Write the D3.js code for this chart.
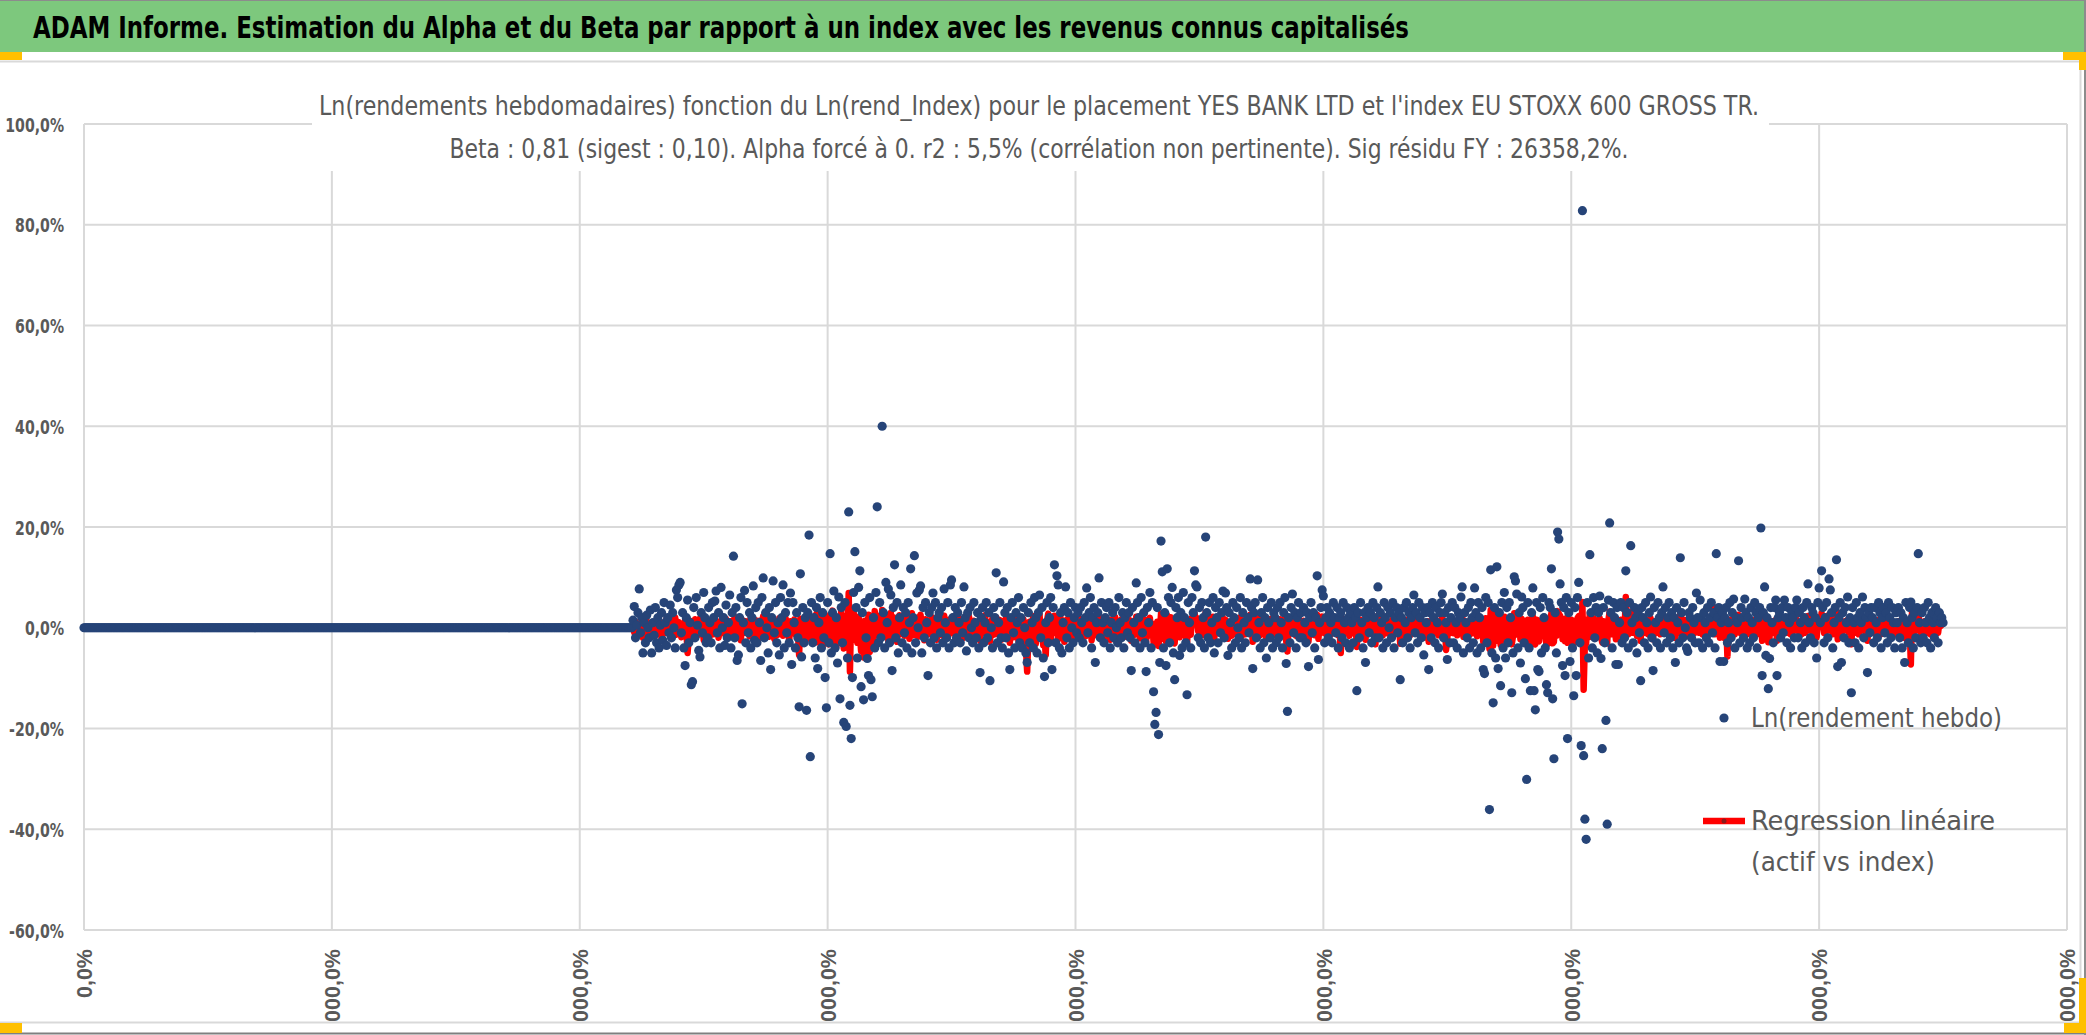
<!DOCTYPE html>
<html>
<head>
<meta charset="utf-8">
<script src="https://cdn.jsdelivr.net/npm/d3@7/dist/d3.min.js"></script>
<style>
  body { margin: 0; background: #fff; }
  svg { display: block; }
</style>
</head>
<body>
<svg id="board" width="2086" height="1035"></svg>
<script>
var title = 'ADAM Informe. Estimation du Alpha et du Beta par rapport à un index avec les revenus connus capitalisés';
var subtitleLines = [
  "Ln(rendements hebdomadaires) fonction du Ln(rend_Index) pour le placement YES BANK LTD et l'index EU STOXX 600 GROSS TR.",
  'Beta : 0,81 (sigest : 0,10). Alpha forcé à 0. r2 : 5,5% (corrélation non pertinente). Sig résidu FY : 26358,2%.'
];
var legendLabels = ['Ln(rendement hebdo)', 'Regression linéaire', '(actif vs index)'];

var xTicks = [0, 200, 400, 600, 800, 1000, 1200, 1400, 1600];
var yTicks = [-60, -40, -20, 0, 20, 40, 60, 80, 100];

// weeks before the first quote: the weekly ln return is 0 there
var preListingWeeks = 443;

// Ln(rendement hebdo), in %, one value per week after listing
var weeklyLnReturns = [
  1.5, 4.2, -2, 0.5, 3, 7.7, -1, 2, -5, 1, -3, 2.5, 0, -2, 3.5, -5, 1, -1.5, 4, -3,
  2, -4, 0.5, 3, -2.5, 5, 1, -3.5, 2, -1, 4.5, -2, 3, 0, -4, 7.5, 6, 8.5, 9, -1,
  3, -4, -7.5, 2, 5.5, -3, 1, -11.3, -10.7, 4, -2, 6, 0.5, -4.5, -5.8, 3, -1, 7, 2, -3,
  -2, 4, 1, -3, 5, 2, 5.3, 7.3, -1, 3, -4, 8, 0, 2, -3.5, 4.5, -2, 1, 6.5, -4,
  3, 14.2, -2, 4, -6.5, -5.4, 2, 6, -15.1, 1, 7.4, -3, 5, -1, 3, -4, 2, 8.3, -2.5, 4,
  -3, 5, 1, -6.5, 6, 9.9, -2, 3, 0, -5, 4, -8.3, 2, 9.3, -1, 5, -3, 1, -5.4, 6,
  2, 8.5, -4, 3, -1, 5, -3, 6.9, -7.3, 5, 1, -4, 3, -2, -15.7, 10.7, -5.8, 4, -3, 2,
  -16.4, 3, 18.4, -25.6, 5, -3, 2, -6, 4, -8.1, 1, 6, -4, 3, -2, -9.9, -15.9, 5, -3, 14.7,
  -5, 3, 7.3, -4, 2, -7, 6.1, -14.1, 4, -3, -18.8, 5, -19.6, -6, 23, -15.4, -22, -9.9, 7, 15.1,
  4, -6, 8, 11.3, -11.7, 3, -14.3, 5, -2, -6.1, -9.5, 6, -10.3, -13.7, 2, -4, 7, 24, -3, 5,
  -2, 40, 3, -4, 9, 1, 7.7, -3, 6.5, -8.5, 4, 12.5, -2, 5, -5, 2, 8.5, -3, 4, -1,
  3, -4, 5, 1, 11.7, -5, 2, 14.3, -3, 6.9, 0, 7.5, 8.3, -5, 4, -2, 5, 1, -9.5, 3,
  -3, 4, 6.9, -2, 5, -4, 2, 3, -1, 4, -3, 7.7, 1, -2, 5, -4, 8.5, 9.5, 2, -3,
  4, -2, 3, 1, -3, 5, -1, 8.1, 2, -4.6, 3, -2, 4, 0, -3, 5, 1, -2, 3, -4,
  -8.9, 2, 4, -3, 1, 5, -2, 3, -10.5, 0, -4, 4, 2, 10.9, -3, 1, 5, -2, -4, 9.1,
  3, -2, 4, -5, -8.3, 2, 5, -1, -4, 3, 1, 6, -3, 2, -4, 4, 0, -5, -6.9, 3,
  -3, 5, 1, -4, 6, 2, -5, 3, 6.5, -2, 4, -6, -9.7, 1, 5, -3, 2, 6, -8.3, 4,
  12.5, -3, 10.3, 8.5, -4, 3, -5, 1, 4, 8.1, -2, 3, -4, 5, 0, -3, 2, 4, -1, 3,
  -2, 4, 1, -3, 5, 2, 7.9, -1, 3, 6, -4, 2, 4, -6.9, 1, 3, 9.9, -2, 5, 1,
  -3, 2, 4, -1, 5, -4, 1, 3, -2, 4, 0, -3, 6, 1, -2, 3, -4, 2, 5, -1,
  3, -2, -8.5, 4, 1, -3, 8.9, 5, 2, -4, 6, -1, 3, -3, -8.7, 4, 1, 7, -4, 5,
  -12.7, -19.2, -16.8, 4, -21.2, -6.9, 17.2, 11.1, -4, 3, -7.5, 11.7, 6, -3, 5, 8, -5, -10.3, 4, 2,
  6, -5.5, 3, -4, 7, 2, -3, -13.3, 5, 1, -4, 6, 3, 11.3, 8.5, 8.1, -2, 4, -3, 5,
  2, -4, 18, 3, -2, 5, -3, 1, 6, -5, 4, 2, -3, 5, -1, 3, 7.3, -2, 6.9, 4,
  -5.5, 3, 1, -4, 5, 2, -3, 4, 0, -2, 6, -4, 3, 1, -3, 5, 2, -1, 9.7, 4,
  -8.1, 3, 5, -2, 9.5, 1, -4, 3, 6, -3, 2, -6, 4, 1, -2, 5, -4, 3, 2, -3,
  4, -2, 5, 1, -4, 3, 6, -7.1, -16.6, 2, -3, 4, 6.7, -1, 3, -4, 2, 5, -2, 3,
  -2, 4, 1, -3, 3, -7.7, 2, 5, -1, 3, -4, 2, 10.3, -6.3, 1, 4, 7.5, 6.3, -3, 2,
  4, -2, 3, 1, -3, 5, 2, -1, 4, -4, 2, 3, -2, 5, 1, -3, 4, 2, -4, 3,
  1, -3, 4, 2, -12.5, 3, -2, 5, 1, -4, 3, -6.9, 2, 4, -1, 3, -3, 5, 2, -2,
  4, 8.1, -2, 3, 1, -4, 5, 2, -3, 4, 0, 3, -2, 5, -4, 2, 4, -1, 3, -10.3,
  2, -3, 4, 1, 5, -2, 3, -4, 2, 4, 6.5, -1, 3, -3, 5, 2, -2, 4, -5.4, 3,
  1, 4, -8.3, 3, -2, 5, 2, -3, 4, 1, -4, 3, 5, 6.7, -2, 3, 1, -6.3, 4, -3,
  2, 5, -3, 4, 1, -4, 3, 2, 6.1, 8.1, -5, 3, 1, -2, 4, -4, 5, 2, -3, 7.9,
  3, -5, 5, 2, -4, 4, -8.3, -9.1, 6, -3, 5, -36.1, 11.5, -5, -14.9, 4, -6, 12.1, -8.1, 3,
  -11.5, 5, -4, 7, -6, 4, -3, 5, 2, -12.9, -5, 10.1, 9.3, 6.7, -4, 3, -7, 6.1, 4, -3,
  -10.1, -30.1, 5, -4, -12.5, 3, 7.9, -12.5, -16.3, 5, -8.3, -8.7, 4, -5, 6, 2, -4, -11.3, -12.9, 5,
  4, 11.7, -14.1, -26, 3, -5, 19, 17.6, 8.7, 5, -7.5, 4, -9.5, 6, -22, 3, -6.7, 5, -4, -13.5,
  4, -9.5, 6, 9, -3, -23.4, 82.8, -25.4, -38, -42, 5, -6, 14.5, 3, -4, 6, -2, 4, -5, 3,
  6.3, -6.1, -24, 4, -3, -18.4, -39, 5.5, 20.8, 3, -4, 5, 2, -7.3, 4, -7.3, 1, 5, -3, 4,
  -2, 11.3, 3, -4, 5, 16.3, 1, -3, 4, 2, -5, 3, -1, -10.5, 4, 2, -3, 5, 1, -4,
  3, 6.1, -2, -8.5, 4, 1, -3, 5, 2, -4, 3, 8.1, -1, 4, -3, 2, 5, -2, 3, -4,
  2, -6.9, 4, 1, -3, 13.9, 3, -2, 5, 0, -4, -4.7, 3, 2, -2, 4, 1, -3, 6.9, 2,
  -3, 5.5, 2, -4, 3, 1, -2, 4, -3, 2, 5, -1, 3, -4, 14.7, 2, 4, -6.7, 1, 3,
  -6.7, 2, 4, -3, 1, 5, -2, 3, 5.7, -4, 2, 1, 13.3, -3, 4, 2, -2, 5.7, 3, -4,
  2, -3, 4, 1, -2, 5, 3, -4, 2, 4, 19.8, -9.5, 3, 8.1, -5.5, 2, -12.1, -6.1, 4, 1,
  -3, 4, 5.5, -9.5, 2, 3, -2, 4, -1, 5.5, 2, -3, 4, 1, -4, 3, 2, -2, 4, 5.5,
  -2, 3, 1, -4, 4, 2, -3, 5, 8.7, 1, -2, 4, 3, -3, 2, -6, 5, 7.9, 1, 11.3,
  4, -3, 2, 5, -2, 9.7, 7.5, 3, -4, 1, 4, 13.5, -7.7, 2, 5, -6.9, 3, -2, 4, 1,
  6.1, -3, 2, -12.9, 4, 1, -3, 5, 2, -4, 3, 1, 6.1, -2, 4, 2, -8.9, 3, -1, 4,
  2, -3, 4, 1, -2, 5, 3, -4, 2, 4, -1, 3, -3, 5, 2, -2, 4, 1, -4, 3,
  1, 4, -2, 3, -4, 2, -6.9, 5, 1, -3, 4, 5.1, 2, -4, 3, -2, 4, 14.7, 1, -3,
  3, -2, 4, 1, -3, 5, 2, -4, 3, 1, -2, 4, 2, -3, 3, 1, 2, 1
];

// Regression linéaire (actif vs index) = beta x Ln(rend_Index), in %, same weeks
var regressionValues = [
  0.5, -1, 1.2, -0.5, 0.8, -1.5, 0.3, 1, -2, 0.6, -0.8, 1.4, -1.2, 0.2, 0.9, -1.8, 1.1, -0.4, 0.7, -1.3,
  1.5, -0.6, 0.4, -2.1, 1, 0.2, -1.1, 1.8, -0.7, 0.5, -1.6, 1.2, 0.3, -0.9, 2, -1.4, 0.6, 1.1, -0.3, -1.9,
  0.8, -1.2, 1.6, -0.5, -5, -1.8, 0.9, 1.3, -2.2, 0.4, 1.7, -0.8, -1.5, 0.6, 1.9, -1, 0.2, -2.4, 1.2, 0.5,
  -0.9, 1.5, -1.7, 0.8, 0.3, -1.3, 2.1, -0.6, 1, -2, 0.7, 1.4, -1.1, 0.4, -0.2, 1.8, -1.6, 0.9, -0.7, 1.3,
  -1.4, 0.6, 2.2, -1.9, 0.5, -0.8, 1.1, -2.5, 1.6, 0.2, -1, 1.3, -0.4, 0.9, -1.7, 2, -0.5, 0.7, -1.2, 1.5,
  0.3, -2.1, 1.4, -0.6, 0.8, 2.3, -1.5, 0.4, -0.9, 1.7, -1.8, 0.5, 1.2, -0.3, -2.2, 1, 0.6, -1.4, 1.9, -0.7,
  1.1, -1.6, 0.2, 2, -1.1, 0.7, -2.6, 1.3, -0.5, 0.9, 1.6, -1.3, 0.4, -0.8, -5.4, 1.8, -1.9, 0.6, 1.2, -1,
  -2.3, 0.8, 2.5, -1.7, 0.3, -3.1, 1.9, -0.6, 2.8, -2.9, 0.5, 3.2, -1.4, -3.6, 1.1, 2.4, -2.7, 0.9, -3.3, 2.6,
  -1.2, 3.4, -2.5, 0.7, -3.8, 2.1, 1.4, -2.9, 3.7, -1.6, -4.1, 2.3, 0.6, -3.2, 6.9, -8.7, 2.9, -1.8, 3.1, -2.4,
  1.7, -3, 2.2, -1.1, -4.6, 0.9, -5.9, 1.4, -5.5, -2.3, 2.6, -4.8, 1.5, 0.8, -2.7, 3.3, -1.5, 2.4, -0.6, 1.2,
  -2.1, 3.5, -1.3, 2.7, -0.8, 1.9, -2.6, 0.5, 3, -1.9, 2.1, -0.4, 1.6, -2.8, 0.9, 2.5, -1.2, 0.3, 1.8, -1.6,
  2.3, -0.7, 1.4, -2.2, 0.6, 2.9, -1.5, 1.1, -0.3, 2, -1.8, 0.8, 2.6, -1, 0.4, -2.5, 1.7, 0.2, -1.3, 1.5,
  -0.6, 2.1, -1.9, 0.7, 1.3, -2.4, 0.5, 1.9, -0.8, 1.2, -1.6, 2.4, -0.2, 0.9, -2, 1.6, 0.3, -1.1, 2.2, -0.5,
  1, -1.7, 0.4, 2, -0.9, 1.5, -2.1, 0.7, 1.8, -1.2, 0.2, 2.3, -1.5, 0.9, -0.4, 1.4, -2.3, 1.1, 0.6, -1.8,
  -2.6, 0.8, 1.6, -1, 2.5, -0.7, 1.2, -2, -2.8, 0.5, 1.9, -1.4, 0.3, 2.1, -1.2, 0.7, 1.5, -2.4, 0.9, 1.3,
  -1.5, 2.2, -0.6, 1, -3, 0.4, 1.8, -1.9, 0.8, 2.4, -1.1, -2.6, 1.3, -3.4, 0.6, 1.7, -2.5, -4.2, -8.7, -1.6,
  1.2, -2.7, 0.9, 2.3, -1.8, -3.2, 1.5, -0.9, 2.6, -2, 0.7, -3.5, -2.2, -5.4, 1.4, 2.8, -1.3, -2.9, 1.9, -1,
  2.4, -0.6, 1.7, -2.3, 0.5, 2, -1.5, 1.2, -2.8, 0.8, 1.6, -1.1, 2.5, -0.4, 0.9, -1.9, 1.4, -0.7, 2.1, -1.4,
  0.6, -2.2, 1.8, -0.5, 1.1, -1.7, 2.3, 0.2, -1.2, 1.5, -2.5, 0.9, 1.9, -0.8, 0.4, -1.6, 2.2, -1, 0.7, 1.3,
  -1.9, 0.8, 2, -1.3, 0.5, -2.4, 1.6, 0.3, -0.9, 2.1, -1.5, 1, -2, 0.6, 1.7, -1.1, 0.2, 2.4, -1.8, 0.9,
  -0.4, 1.5, -2.6, 1.1, 0.7, -1.4, 2.2, -0.8, 1.3, -2.1, 0.5, 1.9, -1.2, 0.4, -2.7, 1.6, -0.3, 2, -1.6, 0.8,
  -2.9, -3.3, -2.4, 1.2, -3.6, -1.5, 2.8, 1.9, -2.2, 0.6, -2.7, 2.5, 1.4, -1.8, 2.1, 0.9, -2.4, -3.1, 1.3, 0.7,
  1.8, -1.9, 0.9, -1.2, 2.3, 0.4, -1.6, -3.2, 1.5, 0.5, -1.4, 2, 0.8, 2.9, 1.7, 1.9, -0.7, 1.1, -1.3, 1.6,
  0.6, -1.5, 3.1, 0.9, -0.8, 1.7, -1.4, 0.3, 2.2, -2, 1.2, 0.5, -1.1, 1.9, -0.4, 0.8, 2, -0.9, 1.6, 1.1,
  -2.2, 0.9, 0.3, -1.6, 1.8, 0.6, -1.2, 1.4, 0.1, -0.8, 2.1, -1.7, 1, 0.4, -1.3, 1.7, 0.7, -0.5, 2.6, 1.2,
  -2.8, 0.8, 1.6, -0.7, 2.7, 0.4, -1.5, 1.1, 1.9, -1.2, 0.6, -2.2, 1.4, 0.3, -0.9, 1.8, -1.6, 1, 0.7, -1.1,
  1.3, -0.6, 1.7, 0.4, -1.5, 1, 2, -2.6, -4.7, 0.7, -1.2, 1.4, 2.1, -0.4, 1.1, -1.6, 0.6, 1.8, -0.8, 1.2,
  -0.7, 1.4, 0.3, -1.2, 1, -2.7, 0.8, 1.7, -0.5, 1.1, -1.5, 0.7, 2.6, -2.2, 0.4, 1.3, 2.2, 1.9, -1.1, 0.6,
  1.4, -0.8, 1.1, 0.3, -1.2, 1.6, 0.7, -0.4, 1.3, -1.5, 0.5, -5, -0.9, 1.7, 0.4, -1.1, 1.5, 0.6, -1.6, 1,
  0.3, -1.1, 1.4, 0.6, -3.8, 1, -0.7, 1.6, 0.4, -1.4, 1.1, -2.4, 0.7, 1.3, -0.3, 1, -1.2, 1.7, 0.5, -3.3,
  1.3, 2.4, -0.7, 1.1, 0.4, -1.5, 1.6, 0.7, -1.1, 1.3, 0.1, 1, -0.8, 1.7, -1.4, 0.6, 1.3, -0.4, 1, -3.2,
  0.7, -1.2, 1.4, 0.3, 1.6, -0.8, 1.1, -1.5, 0.6, 1.3, 2, -0.4, 1, -1.2, 1.5, 0.6, -0.7, 1.3, -2, 1,
  0.4, 1.3, -2.8, 1, -0.7, 1.6, 0.5, -1.1, 1.3, 0.3, -1.5, 1, 1.6, 2.1, -0.8, 1.1, -4.4, -2.1, 1.3, -1.1,
  0.7, 1.6, -1.1, 1.3, 0.3, -1.5, 1, 0.6, 1.9, 2.5, -1.8, 1, 0.4, -0.8, 1.3, -1.4, 1.6, 0.7, -1.1, 2.4,
  1, -1.7, 1.6, 0.6, -1.4, 1.3, -2.8, -3.1, 1.9, -1.1, 1.5, -4.2, 3.5, -1.8, -3.6, 1.3, -2, 3.4, -2.6, 1,
  -3.4, 1.6, -1.4, 2.2, -2, 1.3, -1, 1.6, 0.6, -3.3, -1.7, 2.9, 2.6, 1.9, -1.4, 1, -2.3, 1.8, 1.3, -1,
  -2.9, -3.4, 1.6, -1.3, -3.1, 1, 2.3, -3.2, -3.3, 1.6, -2.6, -2.7, 1.3, -1.6, 1.9, 0.6, -1.3, -3.4, -3.2, 1.6,
  1.3, 2.9, -3.1, -2.8, 1, -1.6, 3.3, 2.8, 2.4, 1.6, -2.3, 1.3, -2.7, 1.9, -3, 1, -2, 1.6, -1.3, -3.1,
  1.3, -2.6, 1.9, 2.3, -1, -3, 5.1, -12.3, -2.9, -3.2, 1.6, -1.9, 3, 1, -1.3, 1.9, -0.6, 1.3, -1.6, 1,
  1.9, -1.9, -2.9, 1.3, -1, -2.7, -3.1, 1.6, 3.2, 1, -1.3, 1.6, 0.6, -2.3, 1.3, -2.2, 0.3, 1.6, -1, 1.3,
  -0.6, 6.1, 1, -1.3, 1.6, 3.1, 0.3, -1, 1.3, 0.6, -1.6, 1, -0.3, -2.6, 1.3, 0.6, -1, 1.6, 0.3, -1.3,
  1, 1.9, -0.6, -2.3, 1.3, 0.3, -1, 1.6, 0.6, -1.3, 1, 2.3, -0.3, 1.3, -1, 0.6, 1.6, -0.6, 1, -1.3,
  0.6, -2, 1.3, 0.3, -1, 2.8, 1, -0.6, 1.6, 0.1, -1.3, -1.6, 1, 0.6, -0.6, 1.3, 0.3, -1, 1.9, 0.6,
  -1, 1.6, 0.6, -1.3, 1, 0.3, -0.6, 1.3, -1, 0.6, 1.6, -0.3, 4, -1.3, 2.9, 0.6, 1.3, -2, 0.3, 1,
  -2, 0.6, 1.3, -5.7, 0.3, 1.6, -0.6, 1, 1.6, -1.3, 0.6, 0.3, 2.6, -1, 1.3, 0.6, -0.6, 1.6, 1, -1.3,
  0.6, -1, 1.3, 0.3, -0.6, 1.6, 1, -1.3, 0.6, 1.3, 3.4, -2.6, 1, 2, -1.6, 0.6, -2.9, -1.9, 1.3, 0.3,
  -1, 1.3, 1.6, -2.6, 0.6, 1, -0.6, 1.3, -0.3, 1.6, 0.6, -1, 1.3, 0.3, -1.3, 1, 0.6, -0.6, 1.3, 1.6,
  -0.6, 1, 0.3, -1.3, 1.3, 0.6, -1, 1.6, 2.3, 0.3, -0.6, 1.3, 1, -1, 0.6, -1.9, 1.3, 2, 0.3, 2.9,
  1.3, -1, 0.6, 1.6, -0.6, 2.6, 1.9, 1, -1.3, 0.3, 1.3, 3.2, -2.3, 0.6, 1.6, -2, 1, -0.6, 1.3, 0.3,
  1.6, -1, 0.6, -3.3, 1.3, 0.3, -1, 1.6, 0.6, -1.3, 1, 0.3, 1.9, -0.6, 1.3, 0.6, -2.6, 1, -0.3, 1.3,
  0.6, -1, 1.3, 0.3, -0.6, 1.6, 1, -1.3, 0.6, 1.3, -0.3, 1, -1, 1.6, 0.6, -0.6, 1.3, 0.3, -1.3, 1,
  0.3, 1.3, -0.6, 1, -1.3, 0.6, -2, 1.6, 0.3, -1, 1.3, -7.3, 3.5, -1.3, 1, -0.6, 1.3, 3, 0.3, -1,
  1, -0.6, 1.3, 0.3, -1, 1.6, 0.6, -1.3, 1, 0.3, -0.6, 1.3, 0.6, -1, 1, 0.3, 0.6, 0.3
];

var W = 2086;
var H = 1035;
var plot = { left: 84, right: 2067, top: 124, bottom: 930 };
var gray = '#595959';
var gridColor = '#d9d9d9';
var dotColor = '#264478';
var lineColor = '#ff0000';
var narrow = "'Liberation Sans Narrow', 'DejaVu Sans Condensed', 'Roboto', sans-serif";

var board = d3.select('#board');

var x = d3.scaleLinear().domain([0, 1600]).range([plot.left, plot.right]);
var y = d3.scaleLinear().domain([-60, 100]).range([plot.bottom, plot.top]);

function frPercent(v) {
  return v.toFixed(1).replace('.', ',') + '%';
}

// rough width of a y tick label in the reference's narrow bold face
function labelWidth(s) {
  var w = 0;
  s.split('').forEach(function(c) {
    if (c === ',') w += 4.5;
    else if (c === '%') w += 15;
    else if (c === '-') w += 6;
    else w += 9.8;
  });
  return w;
}

// points: flat zeros before listing, then the weekly series
var dotData = d3.range(preListingWeeks).map(function(i) {
  return { week: i, value: 0 };
}).concat(weeklyLnReturns.map(function(v, j) {
  return { week: preListingWeeks + j, value: v };
}));
var lineData = regressionValues.map(function(v, j) {
  return { week: preListingWeeks + j, value: v };
});

renderFrame();
renderGrid();
renderAxes();
renderSeries();
renderTitles();
renderLegend();

function renderFrame() {
  board.append('rect')
    .attr('x', 0).attr('y', 0).attr('width', W).attr('height', H)
    .attr('fill', '#fff');

  // green header band
  board.append('rect')
    .attr('x', 0).attr('y', 0).attr('width', 2084).attr('height', 52)
    .attr('fill', '#7dc87d');
  board.append('line')
    .attr('x1', 0).attr('x2', W).attr('y1', 0.5).attr('y2', 0.5)
    .attr('stroke', '#8c8c8c');

  // chart area border
  board.append('path')
    .attr('d', 'M0,61.5H2080.5V1022.5H0')
    .attr('fill', 'none')
    .attr('stroke', gridColor)
    .attr('stroke-width', 2);
  board.append('line')
    .attr('x1', 0).attr('x2', W).attr('y1', 1033.5).attr('y2', 1033.5)
    .attr('stroke', '#7f7f7f').attr('stroke-width', 2);
  board.append('line')
    .attr('x1', 2085).attr('x2', 2085).attr('y1', 0).attr('y2', H)
    .attr('stroke', '#8c8c8c').attr('stroke-width', 2);

  // selection handles
  var handles = [
    [0, 52, 22, 8], [2063, 52, 23, 8], [2079, 52, 7, 18],
    [0, 1023, 22, 10], [2064, 1023, 22, 10], [2079, 978, 7, 55]
  ];
  board.selectAll('.handle')
    .data(handles)
    .enter()
    .append('rect')
    .classed('handle', true)
    .attr('x', function(d) { return d[0]; })
    .attr('y', function(d) { return d[1]; })
    .attr('width', function(d) { return d[2]; })
    .attr('height', function(d) { return d[3]; })
    .attr('fill', '#ffc000');
}

function renderGrid() {
  var grid = board.append('g').attr('id', 'grid');
  grid.selectAll('.hgrid')
    .data(yTicks)
    .enter()
    .append('line')
    .classed('hgrid', true)
    .attr('x1', plot.left).attr('x2', plot.right)
    .attr('y1', y).attr('y2', y)
    .attr('stroke', gridColor)
    .attr('stroke-width', 2);
  grid.selectAll('.vgrid')
    .data(xTicks)
    .enter()
    .append('line')
    .classed('vgrid', true)
    .attr('x1', x).attr('x2', x)
    .attr('y1', plot.top).attr('y2', plot.bottom)
    .attr('stroke', gridColor)
    .attr('stroke-width', 2);

  // the chart title sits on a white box over the top of the grid
  board.append('rect')
    .attr('x', 312).attr('y', 63).attr('width', 1457).attr('height', 108)
    .attr('fill', '#fff');
}

function renderAxes() {
  var yAxis = board.append('g')
    .attr('transform', 'translate(64,0)')
    .call(d3.axisLeft(y).tickValues(yTicks).tickFormat(frPercent).tickSize(0).tickPadding(0));
  yAxis.select('.domain').remove();
  yAxis.selectAll('text')
    .attr('dy', '0.35em')
    .attr('textLength', function(d) { return labelWidth(frPercent(d)); })
    .attr('lengthAdjust', 'spacingAndGlyphs')
    .style('font-family', narrow)
    .style('font-size', '20px')
    .style('font-weight', 'bold')
    .attr('fill', gray);

  // x labels are longer than the room under the plot: the chart edge cuts them
  board.append('clipPath')
    .attr('id', 'label-clip')
    .append('rect')
    .attr('x', 0).attr('y', 0).attr('width', W).attr('height', 1021);

  var xAxis = board.append('g')
    .attr('clip-path', 'url(#label-clip)')
    .append('g')
    .attr('transform', 'translate(0,949)')
    .call(d3.axisBottom(x).tickValues(xTicks).tickFormat(function(t) {
      return frPercent(t * 100);
    }).tickSize(0));
  xAxis.select('.domain').remove();
  xAxis.selectAll('text')
    .attr('x', 0)
    .attr('y', 0)
    .attr('dy', '0.36em')
    .attr('transform', 'rotate(-90)')
    .style('text-anchor', 'end')
    .style('font-family', "'Liberation Sans', Arial, sans-serif")
    .style('font-size', '21.5px')
    .style('font-weight', 'bold')
    .attr('fill', gray);
}

function renderSeries() {
  var regression = d3.line()
    .x(function(d) { return x(d.week); })
    .y(function(d) { return y(d.value); });

  board.append('path')
    .datum(lineData)
    .attr('d', regression)
    .attr('fill', 'none')
    .attr('stroke', lineColor)
    .attr('stroke-width', 6.5)
    .attr('stroke-linejoin', 'round');

  // dots are drawn over the regression line
  board.append('g')
    .attr('id', 'dots')
    .selectAll('circle')
    .data(dotData)
    .enter()
    .append('circle')
    .attr('cx', function(d) { return x(d.week); })
    .attr('cy', function(d) { return y(d.value); })
    .attr('r', 4.6)
    .attr('fill', dotColor);
}

function renderTitles() {
  board.append('text')
    .attr('x', 33)
    .attr('y', 38)
    .attr('textLength', 1376)
    .attr('lengthAdjust', 'spacingAndGlyphs')
    .style('font-family', narrow)
    .style('font-size', '31px')
    .style('font-weight', 'bold')
    .attr('fill', '#000')
    .text(title);

  var widths = [1440, 1179];
  var baselines = [115, 158];
  board.selectAll('.subtitle')
    .data(subtitleLines)
    .enter()
    .append('text')
    .classed('subtitle', true)
    .attr('x', 1039)
    .attr('y', function(d, i) { return baselines[i]; })
    .attr('text-anchor', 'middle')
    .attr('textLength', function(d, i) { return widths[i]; })
    .attr('lengthAdjust', 'spacingAndGlyphs')
    .style('font-family', narrow)
    .style('font-size', '26px')
    .attr('fill', gray)
    .text(function(d) { return d; });
}

function renderLegend() {
  var legend = board.append('g').attr('id', 'legend');
  legend.append('circle')
    .attr('cx', 1724).attr('cy', 718).attr('r', 4.6)
    .attr('fill', dotColor);
  legend.append('line')
    .attr('x1', 1703).attr('x2', 1745)
    .attr('y1', 821).attr('y2', 821)
    .attr('stroke', lineColor)
    .attr('stroke-width', 6.5);
  legend.append('circle')
    .attr('cx', 1724).attr('cy', 821).attr('r', 2.5)
    .attr('fill', '#8b1a1a');

  var rows = [
    { label: legendLabels[0], y: 718, w: 251 },
    { label: legendLabels[1], y: 821, w: 244 },
    { label: legendLabels[2], y: 862, w: 184 }
  ];
  legend.selectAll('text')
    .data(rows)
    .enter()
    .append('text')
    .attr('x', 1751)
    .attr('y', function(d) { return d.y; })
    .attr('dy', '0.35em')
    .attr('textLength', function(d) { return d.w; })
    .attr('lengthAdjust', 'spacingAndGlyphs')
    .style('font-family', narrow)
    .style('font-size', '27px')
    .attr('fill', gray)
    .text(function(d) { return d.label; });
}
</script>
</body>
</html>
